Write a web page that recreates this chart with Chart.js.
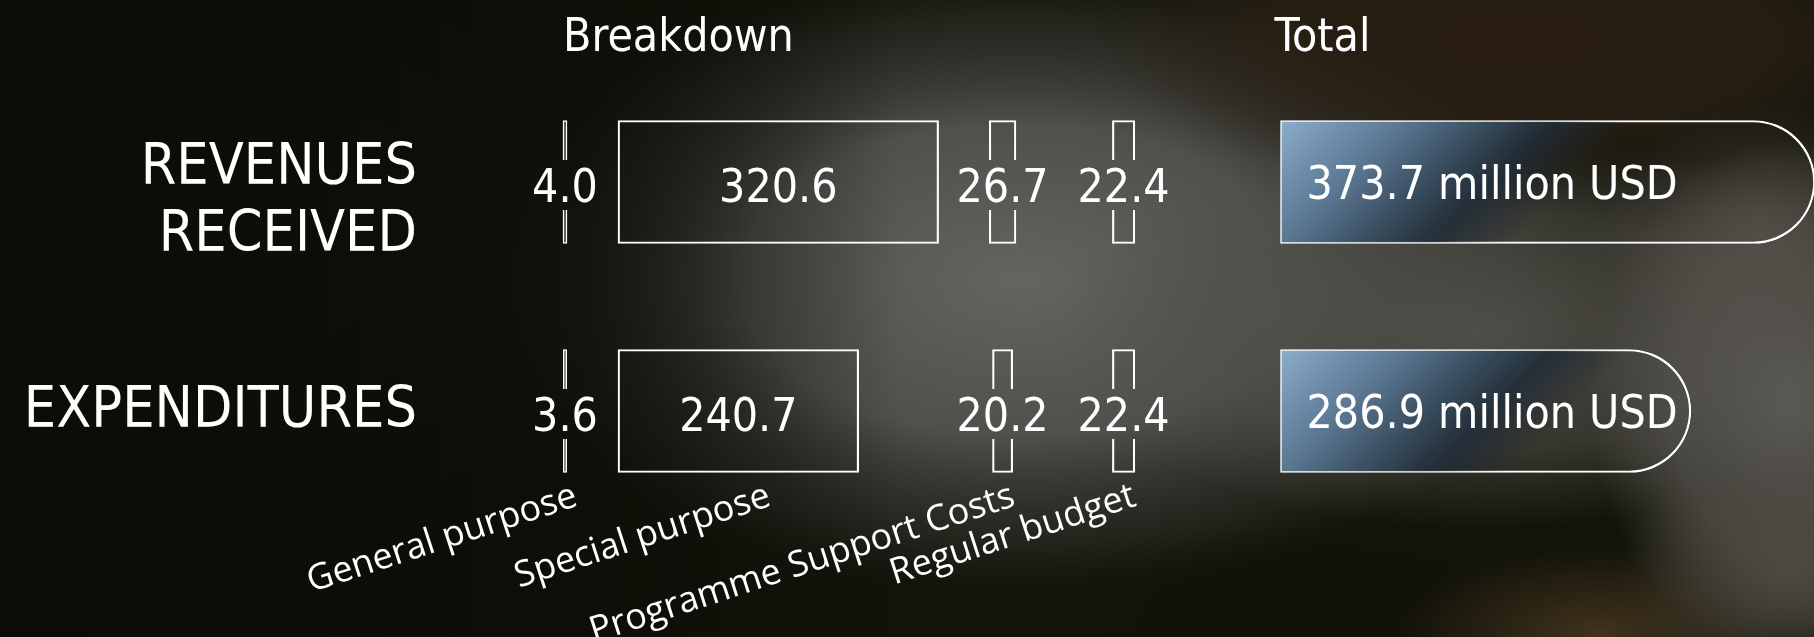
<!DOCTYPE html>
<html lang="en">
<head>
<meta charset="UTF-8">
<title>Revenues received and expenditures</title>
<style>
  html, body { margin: 0; padding: 0; background: #111209; overflow: hidden; }
  #chart { display: block; }
</style>
<script src="https://cdn.jsdelivr.net/npm/chart.js"></script>
</head>
<body>
<canvas id="chart" width="1814" height="637"></canvas>
<script>
  // Values, million USD
  const ROWS = [['REVENUES', 'RECEIVED'], 'EXPENDITURES'];
  const PARTS = ['General purpose', 'Special purpose', 'Programme Support Costs', 'Regular budget'];
  const generalPurpose = [4.0, 3.6];
  const specialPurpose = [320.6, 240.7];
  const supportCosts = [26.7, 20.2];
  const regularBudget = [22.4, 22.4];
  const totals = [373.7, 286.9];

  const parts = [generalPurpose, specialPurpose, supportCosts, regularBudget];

  // Breakdown columns are laid out one after another on the 'xb' axis
  const FIRST_SLOT = 96;
  const GAPS = [15, 26, 45];
  const LABEL_SLOT = 76;          // room for a number printed over a thin box
  const LABEL_SHIFT = 11;         // rotated names end a little right of the column middle
  const ALIGN = ['center', 'start', 'center', 'center'];
  const BAR_H = 123;

  const FONT = "'DejaVu Sans Condensed', 'DejaVu Sans', sans-serif";

  let cursor = FIRST_SLOT;
  const ranges = parts.map((vals, c) => {
    const w = Math.max(LABEL_SLOT, ...vals);
    const start = cursor;
    cursor += w + (GAPS[c] || 0);
    return vals.map(v => ALIGN[c] === 'start'
      ? [start, start + v]
      : [start + w / 2 - v / 2, start + w / 2 + v / 2]);
  });
  const tickValues = ranges.map(r => LABEL_SHIFT + r.reduce((s, [a, b]) => s + (a + b) / 2, 0) / r.length);

  function totalFill(c) {
    const chart = c.chart;
    const { xt, y } = chart.scales;
    if (!chart.chartArea || !xt || !y || c.dataIndex === undefined) return 'rgba(0,0,0,0)';
    const x0 = xt.getPixelForValue(0);
    const y0 = y.getPixelForValue(c.dataIndex) - BAR_H / 2;
    const g = chart.ctx.createLinearGradient(x0, y0, x0 + 220, y0 + 220);
    g.addColorStop(0, '#8cadcd');
    g.addColorStop(0.28, '#5b7792');
    g.addColorStop(0.45, '#3c5264');
    g.addColorStop(0.62, 'rgba(33,45,56,0.9)');
    g.addColorStop(0.8, 'rgba(30,38,46,0)');
    return g;
  }

  function blob(ctx, cx, cy, rx, ry, stops) {
    ctx.save();
    ctx.translate(cx, cy);
    ctx.scale(rx / ry, 1);
    const g = ctx.createRadialGradient(0, 0, 0, 0, 0, ry);
    stops.forEach(([o, col]) => g.addColorStop(o, col));
    ctx.fillStyle = g;
    ctx.fillRect(-4000, -4000, 8000, 8000);
    ctx.restore();
  }

  // blurred photo-like backdrop
  const backdrop = {
    id: 'backdrop',
    beforeDraw(chart) {
      const { ctx, width, height } = chart;
      ctx.save();
      ctx.fillStyle = '#121309';
      ctx.fillRect(0, 0, width, height);
      blob(ctx, 1020, 280, 560, 310, [[0, 'rgba(100,100,97,1)'], [0.5, 'rgba(86,86,83,0.9)'], [0.85, 'rgba(60,60,56,0.4)'], [1, 'rgba(50,50,46,0)']]);
      blob(ctx, 1480, 330, 420, 200, [[0, 'rgba(84,82,76,0.9)'], [0.6, 'rgba(80,78,72,0.6)'], [1, 'rgba(80,78,72,0)']]);
      blob(ctx, 1790, 400, 200, 260, [[0, 'rgba(94,92,88,0.95)'], [0.6, 'rgba(88,85,80,0.7)'], [1, 'rgba(88,85,80,0)']]);
      blob(ctx, 1760, 230, 160, 130, [[0, 'rgba(86,80,74,0.8)'], [1, 'rgba(86,80,74,0)']]);
      blob(ctx, 1520, 40, 420, 150, [[0, 'rgba(42,30,16,0.95)'], [0.6, 'rgba(45,34,22,0.7)'], [1, 'rgba(45,34,22,0)']]);
      blob(ctx, 1330, 630, 260, 110, [[0, 'rgba(20,18,10,0.9)'], [1, 'rgba(20,18,10,0)']]);
      blob(ctx, 1600, 635, 200, 90, [[0, 'rgba(74,56,32,0.85)'], [1, 'rgba(74,56,32,0)']]);
      blob(ctx, 1790, 570, 170, 120, [[0, 'rgba(80,76,68,0.85)'], [1, 'rgba(80,76,68,0)']]);
      blob(ctx, 200, 250, 400, 300, [[0, 'rgba(26,28,12,0.6)'], [1, 'rgba(26,28,12,0)']]);
      const lg = ctx.createLinearGradient(0, 0, 900, 0);
      lg.addColorStop(0, 'rgba(10,11,6,0.9)');
      lg.addColorStop(0.65, 'rgba(12,13,7,0.75)');
      lg.addColorStop(1, 'rgba(12,13,7,0)');
      ctx.fillStyle = lg;
      ctx.fillRect(0, 0, 900, height);
      ctx.restore();
    }
  };

  const valueLabels = {
    id: 'valueLabels',
    beforeDatasetsDraw(chart) {
      // leave a gap in thin boxes where their number is printed
      const ctx = chart.ctx;
      ctx.save();
      ctx.font = `46px ${FONT}`;
      ctx.beginPath();
      ctx.rect(0, 0, chart.width, chart.height);
      parts.forEach((vals, c) => {
        chart.getDatasetMeta(c).data.forEach((bar, j) => {
          const tw = ctx.measureText(vals[j].toFixed(1)).width;
          if (Math.abs(bar.x - bar.base) < tw + 10) {
            const cx = (bar.x + bar.base) / 2;
            ctx.rect(cx - tw / 2 - 4, bar.y - 22, tw + 8, 50);
          }
        });
      });
      ctx.clip('evenodd');
    },
    afterDatasetsDraw(chart) {
      const ctx = chart.ctx;
      ctx.restore();
      ctx.save();
      ctx.fillStyle = '#ffffff';
      ctx.font = `46px ${FONT}`;
      ctx.textBaseline = 'alphabetic';
      ctx.textAlign = 'center';
      parts.forEach((vals, c) => {
        chart.getDatasetMeta(c).data.forEach((bar, j) => {
          ctx.fillText(vals[j].toFixed(1), (bar.x + bar.base) / 2, bar.y + 20);
        });
      });
      ctx.textAlign = 'left';
      chart.getDatasetMeta(parts.length).data.forEach((bar, j) => {
        ctx.fillText(`${totals[j].toFixed(1)} million USD`, bar.base + 26, bar.y + 17);
      });
      ctx.restore();
    },
    afterDraw(chart) {
      const ctx = chart.ctx;
      const rowTop = chart.getDatasetMeta(0).data[0].y - BAR_H / 2;
      ctx.save();
      ctx.fillStyle = '#ffffff';
      ctx.font = `46px ${FONT}`;
      ctx.textAlign = 'left';
      ctx.textBaseline = 'alphabetic';
      const first = Math.min(...chart.getDatasetMeta(0).data.map(b => b.base));
      ctx.fillText('Breakdown', first, rowTop - 70);
      ctx.fillText('Total', chart.getDatasetMeta(parts.length).data[0].base - 6, rowTop - 70);
      ctx.restore();
    }
  };

  const datasets = parts.map((vals, c) => ({
    label: PARTS[c],
    data: ranges[c],
    xAxisID: 'xb',
    backgroundColor: 'rgba(0,0,0,0)',
    borderColor: '#ffffff',
    borderWidth: c === 0 ? 1 : 1.5,   // keeps the thinnest box hollow
    borderSkipped: false,
    barThickness: BAR_H,
    clip: false
  }));
  datasets.push({
    label: 'Total',
    data: totals.map(v => [0, v]),
    xAxisID: 'xt',
    backgroundColor: totalFill,
    borderColor: '#ffffff',
    borderWidth: 1.5,
    borderSkipped: false,
    borderRadius: { topLeft: 0, bottomLeft: 0, topRight: 62, bottomRight: 62 },
    barThickness: BAR_H,
    clip: false
  });

  new Chart(document.getElementById('chart'), {
    type: 'bar',
    data: { labels: ROWS, datasets },
    plugins: [backdrop, valueLabels],
    options: {
      responsive: false,
      animation: false,
      indexAxis: 'y',
      grouped: false,
      layout: { padding: { left: 16, top: 182, right: 0, bottom: 0 } },
      plugins: { legend: { display: false }, tooltip: { enabled: false } },
      scales: {
        y: {
          type: 'category',
          display: false,
          offset: false
        },
        // row names: same rows as 'y', with the two-line name set a bit lower
        yl: {
          type: 'linear',
          position: 'left',
          reverse: true,
          offset: false,
          min: -0.1,
          max: 0.995,
          grid: { display: false, drawTicks: false },
          border: { display: false },
          afterFit: s => { s.width = 415; },
          afterBuildTicks: s => { s.ticks = ROWS.map((r, i) => ({ value: i })); },
          ticks: {
            color: '#ffffff',
            padding: 14,
            autoSkip: false,
            font: { family: FONT, size: 57, lineHeight: 1.18 },
            callback: (v, i) => ROWS[i]
          }
        },
        xb: {
          type: 'linear',
          position: 'bottom',
          min: 0,
          max: 1383,
          grid: { display: false, drawTicks: false },
          border: { display: false },
          afterFit: s => { s.height = 226; },
          afterBuildTicks: s => { s.ticks = tickValues.map(v => ({ value: v })); },
          ticks: {
            color: '#ffffff',
            padding: 64,
            autoSkip: false,
            minRotation: 18,
            maxRotation: 18,
            font: { family: "'Open Sans', sans-serif", size: 36 },
            callback: (v, i) => PARTS[i]
          }
        },
        xt: {
          type: 'linear',
          display: false,
          min: -594,   // puts the start of the totals at about x = 1281
          max: 373
        }
      }
    }
  });
</script>
</body>
</html>
